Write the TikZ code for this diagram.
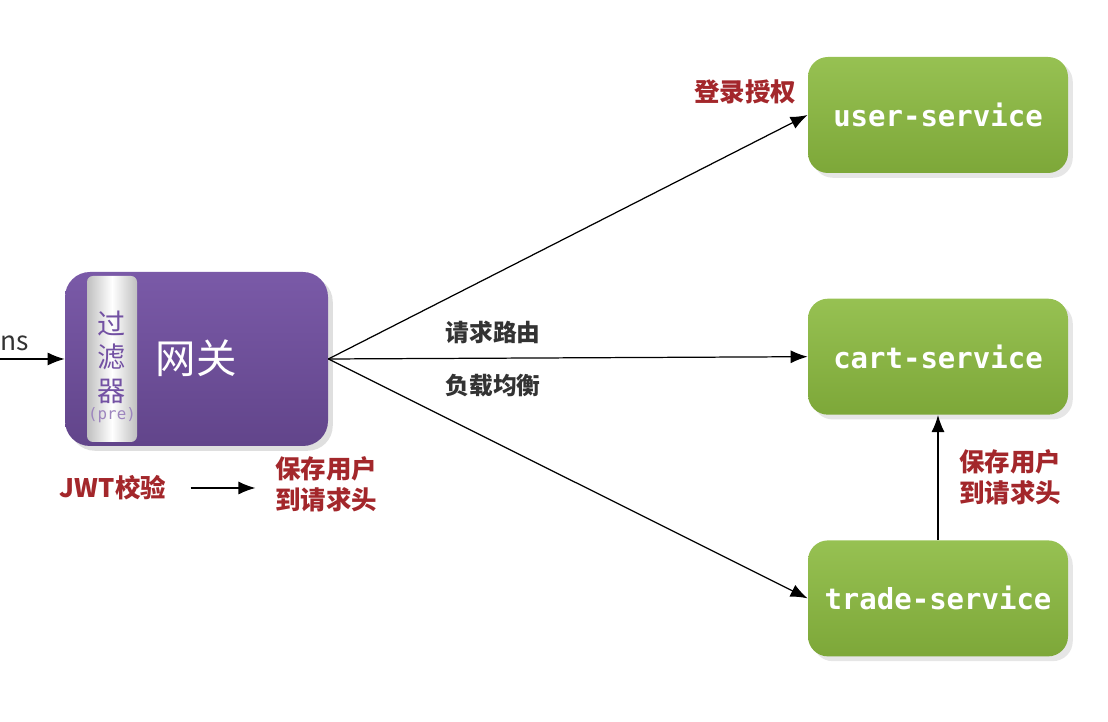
\documentclass[tikz,border=0pt]{standalone}
\usepackage{fontspec}
\setmainfont{Noto Sans CJK SC}
\newfontfamily\cjk{Noto Sans CJK SC}
\newfontfamily\mono{DejaVu Sans Mono}
\usetikzlibrary{arrows.meta,positioning,shadows}
\definecolor{gwpurple}{HTML}{7351A3}
\definecolor{svcgreen}{HTML}{8BBA3F}
\definecolor{notered}{HTML}{A3272B}
\definecolor{notegray}{HTML}{333333}
\tikzstyle{edge}=[
	-{Latex[length=3.4mm,width=2.6mm]},
	draw=black,
	line width=0.7pt
]
\tikzstyle{gateway}=[
	rectangle,
	rounded corners=0.5cm,
	minimum width=5.26cm,
	minimum height=3.48cm,
	top color=gwpurple!95!white,
	bottom color=gwpurple!85!black,
	draw=none,
	drop shadow={opacity=0.25}
]
\tikzstyle{service}=[
	rectangle,
	rounded corners=0.4cm,
	minimum width=5.2cm,
	minimum height=2.32cm,
	top color=svcgreen!90!white,
	bottom color=svcgreen!90!black,
	draw=none,
	text=white,
	font=\mono\bfseries\fontsize{16.5}{18}\selectfont,
	drop shadow={opacity=0.2}
]
\tikzstyle{note}=[
	text=notered,
	font=\cjk\bfseries\fontsize{14.5}{17.5}\selectfont,
	align=left,
	inner sep=1pt
]
\tikzstyle{route}=[
	text=notegray,
	font=\cjk\bfseries\fontsize{13.5}{16}\selectfont,
	inner sep=1pt
]

\begin{document}
\begin{tikzpicture}
\useasboundingbox (0,0) rectangle (22.16,14.44);

% gateway with its pre filter
\node[gateway] (gw) at (3.93,7.26) {};
\node[rectangle, rounded corners=0.12cm, minimum width=1.0cm, minimum height=3.32cm,
	left color=black!25, right color=black!25, middle color=white,
	draw=none] (filter) at (2.24,7.26) {};
\node[text=gwpurple, font=\cjk\fontsize{16}{19}\selectfont, align=center,
	inner sep=0pt] (flabel) at (2.24,7.3) {过\\滤\\器};
\node[text=gwpurple!70, font=\mono\fontsize{9}{10}\selectfont, inner sep=0pt,
	below=0.08cm of flabel] (pre) {(pre)};
\node[text=white, font=\cjk\fontsize{23}{26}\selectfont] (gwname) at (3.92,7.28) {网关};

% incoming request
\coordinate (in) at (0,7.26);
\node[anchor=east, text=notegray, font=\cjk\fontsize{15}{18}\selectfont,
	inner sep=0pt] (req) at (0.58,7.58) {ns};
\draw[edge] (in) to (gw);

% services
\node[service] (user) at (18.76,12.14) {user-service};
\node[service, below=2.5cm of user] (cart) {cart-service};
\node[service, below=2.5cm of cart] (trade) {trade-service};

\draw[edge] (gw.east) to (user.west);
\draw[edge] (gw.east) to (cart.west);
\draw[edge] (gw.east) to (trade.west);
\draw[edge] (trade) to (cart);

% labels
\node[route] (routing) at (9.86,7.8) {请求路由};
\node[route] (balance) at (9.86,6.72) {负载均衡};
\node[note] (login) at (14.9,12.6) {登录授权};
\node[note] (jwt) at (2.26,4.68) {JWT校验};
\node[note] (savegw) at (6.52,4.76) {保存用户\\到请求头};
\node[note] (savesvc) at (20.2,4.9) {保存用户\\到请求头};
\draw[edge, shorten <=0.45cm, shorten >=0.35cm] (jwt.east) to (savegw.west |- jwt.east);

\end{tikzpicture}
\end{document}
